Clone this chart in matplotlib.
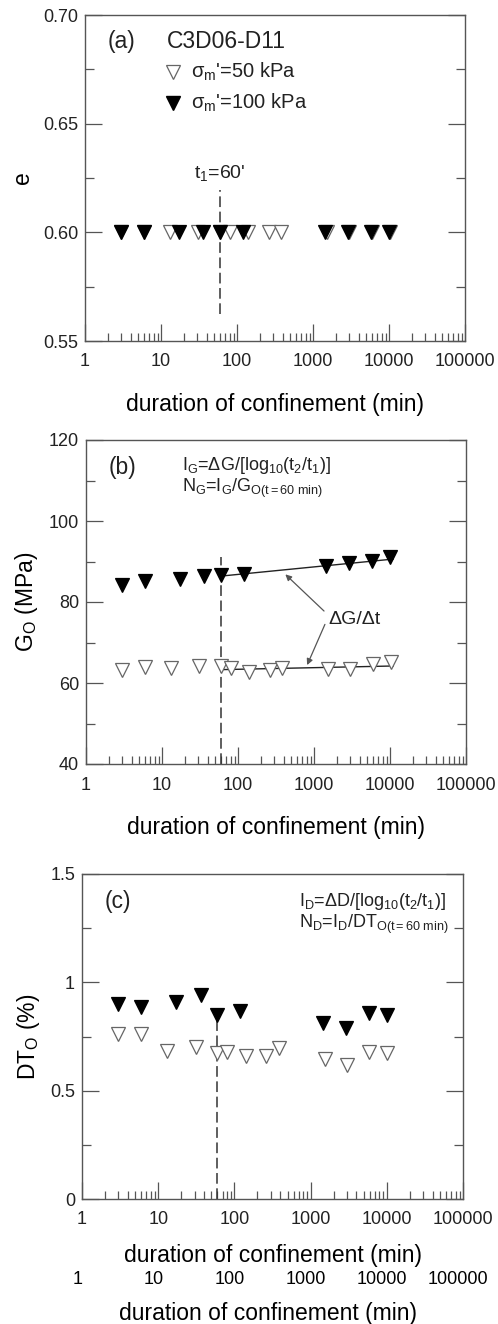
import numpy as np
import matplotlib.pyplot as plt
from matplotlib.ticker import LogLocator, FixedLocator, FixedFormatter, NullFormatter, MultipleLocator

plt.rcParams['font.family'] = ['Liberation Sans', 'DejaVu Sans']
plt.rcParams['mathtext.fontset'] = 'custom'
plt.rcParams['mathtext.rm'] = 'Liberation Sans'
plt.rcParams['mathtext.it'] = 'Liberation Sans'
plt.rcParams['mathtext.default'] = 'regular'
plt.rcParams['text.color'] = '#222222'

# durations (min)
t_50 = [3, 6, 13, 31, 60, 80, 140, 260, 380, 1550, 3000, 5900, 10200]
t_100 = [3, 6, 17, 36, 60, 120, 1440, 2880, 5760, 10080]

# void ratio
e_50 = [0.600, 0.600, 0.600, 0.600, 0.600, 0.600, 0.600, 0.600, 0.600, 0.600, 0.600, 0.600, 0.600]
e_100 = [0.600, 0.600, 0.600, 0.600, 0.600, 0.600, 0.600, 0.600, 0.600, 0.600]

# small strain shear modulus (MPa)
G_50 = [63.1, 63.9, 63.7, 64.1, 64.1, 63.7, 62.7, 63.1, 63.7, 63.5, 63.5, 64.7, 65.1]
G_100 = [84.2, 85.1, 85.7, 86.5, 86.7, 87.0, 89.0, 89.6, 90.2, 91.0]

# damping (%)
DT_50 = [0.762, 0.762, 0.685, 0.703, 0.672, 0.677, 0.660, 0.662, 0.695, 0.646, 0.618, 0.677, 0.672]
DT_100 = [0.900, 0.885, 0.911, 0.942, 0.848, 0.869, 0.811, 0.788, 0.857, 0.849]

# fitted lines after t1 = 60 min
fit_t = [60, 11000]
fit_G100 = [86.4, 90.6]
fit_G50 = [63.3, 64.2]

xticks = [1, 10, 100, 1000, 10000, 100000]
xticklabels = ['1', '10', '100', '1000', '10000', '100000']

gray = '#555555'
fs_tick = 13
fs_lab = 16.5

fig = plt.figure(figsize=(4.98, 13.24), dpi=100)
W, H = 498.0, 1324.0

def make_ax(l, r, t, b):
    return fig.add_axes([l / W, 1 - b / H, (r - l) / W, (b - t) / H])

def style(ax, ylim, ymaj, ymin, ylabel, ylx, xlpad=16):
    ax.set_xscale('log')
    ax.set_xlim(1, 100000)
    ax.set_ylim(*ylim)
    ax.xaxis.set_major_locator(FixedLocator(xticks))
    ax.xaxis.set_major_formatter(FixedFormatter(xticklabels))
    ax.xaxis.set_minor_locator(LogLocator(base=10, subs=np.arange(2, 10)))
    ax.xaxis.set_minor_formatter(NullFormatter())
    ax.yaxis.set_major_locator(MultipleLocator(ymaj))
    ax.yaxis.set_minor_locator(MultipleLocator(ymin))
    ax.tick_params(axis='x', which='both', direction='in', bottom=True, top=False,
                   colors=gray, labelcolor='#222222', labelsize=fs_tick, pad=9)
    ax.tick_params(axis='x', which='major', length=12, width=0.9)
    ax.tick_params(axis='x', which='minor', length=6, width=0.9)
    ax.tick_params(axis='y', which='both', direction='in', left=True, right=True,
                   colors=gray, labelcolor='#222222', labelsize=fs_tick, pad=5)
    ax.tick_params(axis='y', which='major', length=12, width=0.9)
    ax.tick_params(axis='y', which='minor', length=6.5, width=0.9)
    for s in ax.spines.values():
        s.set_color(gray)
        s.set_linewidth(1.0)
    ax.set_xlabel('duration of confinement (min)', fontsize=fs_lab, labelpad=xlpad)
    ax.set_ylabel(ylabel, fontsize=fs_lab)
    ax.yaxis.set_label_coords(ylx, 0.5)

def markers(ax, y50, y100):
    ax.plot(t_50, y50, 'v', ms=9.5, mfc='white', mec='#666666', mew=0.9, ls='none', zorder=3)
    ax.plot(t_100, y100, 'v', ms=9.5, mfc='black', mec='black', mew=0.9, ls='none', zorder=4)

# (a) void ratio
ax1 = make_ax(85, 465, 15, 341)
style(ax1, (0.55, 0.70), 0.05, 0.025, 'e', -0.133)
ax1.yaxis.set_major_formatter(plt.FuncFormatter(lambda v, p: '%.2f' % v))
markers(ax1, e_50, e_100)
ax1.plot([60, 60], [0.5625, 0.6195], color='#333333', lw=1.1, dashes=(7, 3))
ax1.text(60, 0.6275, "t$_1$=60'", fontsize=14, ha='center', va='center')
ax1.text(0.06, 0.92, '(a)', transform=ax1.transAxes, fontsize=16.5, va='center')
ax1.text(0.215, 0.92, 'C3D06-D11', transform=ax1.transAxes, fontsize=16.5, va='center')
ax1.plot([0.232], [0.826], 'v', ms=9.5, mfc='white', mec='#666666', mew=0.9, transform=ax1.transAxes)
ax1.plot([0.232], [0.731], 'v', ms=9.5, mfc='black', mec='black', transform=ax1.transAxes)
ax1.text(0.28, 0.826, "σ$_m$'=50 kPa", transform=ax1.transAxes, fontsize=14.5, va='center')
ax1.text(0.28, 0.731, "σ$_m$'=100 kPa", transform=ax1.transAxes, fontsize=14.5, va='center')

# (b) shear modulus
ax2 = make_ax(86, 466, 440, 764)
style(ax2, (40, 120), 20, 10, 'G$_O$ (MPa)', -0.12)
markers(ax2, G_50, G_100)
ax2.plot(fit_t, fit_G100, color='#222222', lw=1.0, zorder=2)
ax2.plot(fit_t, fit_G50, color='#222222', lw=1.0, zorder=2)
ax2.plot([60, 60], [40, 91.2], color='#333333', lw=1.1, dashes=(7, 3))
ax2.text(0.06, 0.915, '(b)', transform=ax2.transAxes, fontsize=16.5, va='center')
ax2.text(0.253, 0.92, 'I$_G$=ΔG/[log$_{10}$(t$_2$/t$_1$)]', transform=ax2.transAxes, fontsize=13, va='center')
ax2.text(0.253, 0.85, 'N$_G$=I$_G$/G$_{O(t=60\\ min)}$', transform=ax2.transAxes, fontsize=13, va='center')
ax2.text(1560, 75.6, 'ΔG/Δt', fontsize=14, va='center')
ax2.annotate('', xy=(395, 87.3), xytext=(1440, 77.3),
             arrowprops=dict(arrowstyle='-|>', color='#555555', lw=0.9, mutation_scale=9))
ax2.annotate('', xy=(785, 63.8), xytext=(1440, 75.1),
             arrowprops=dict(arrowstyle='-|>', color='#555555', lw=0.9, mutation_scale=9))

# (c) damping
ax3 = make_ax(82, 463, 874, 1199)
style(ax3, (0, 1.5), 0.5, 0.25, 'DT$_O$ (%)', -0.104, xlpad=11)
ax3.yaxis.set_major_formatter(plt.FuncFormatter(lambda v, p: '%g' % v))
markers(ax3, DT_50, DT_100)
ax3.plot([60, 60], [0.0, 0.83], color='#333333', lw=1.1, dashes=(7, 3))
ax3.text(0.06, 0.915, '(c)', transform=ax3.transAxes, fontsize=16.5, va='center')
ax3.text(0.57, 0.915, 'I$_D$=ΔD/[log$_{10}$(t$_2$/t$_1$)]', transform=ax3.transAxes, fontsize=13, va='center')
ax3.text(0.57, 0.845, 'N$_D$=I$_D$/DT$_{O(t=60\\ min)}$', transform=ax3.transAxes, fontsize=13, va='center')

# repeated axis labels under the bottom panel
ax4 = fig.add_axes([78 / W, 1 - 1268 / H, 380 / W, 0.0005])
ax4.set_xscale('log')
ax4.set_xlim(1, 100000)
ax4.xaxis.set_major_locator(FixedLocator(xticks))
ax4.xaxis.set_major_formatter(FixedFormatter(xticklabels))
ax4.xaxis.set_minor_locator(FixedLocator([]))
ax4.tick_params(axis='x', length=0, labelsize=fs_tick, pad=2)
ax4.set_yticks([])
for s in ax4.spines.values():
    s.set_visible(False)
ax4.patch.set_visible(False)
ax4.set_xlabel('duration of confinement (min)', fontsize=fs_lab, labelpad=10)

fig.savefig('out.png', dpi=100)
